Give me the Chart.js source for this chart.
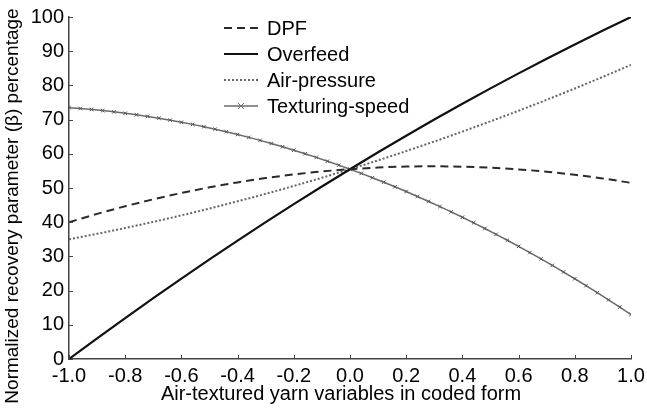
<!DOCTYPE html>
<html>
<head>
<meta charset="utf-8">
<script src="https://cdn.jsdelivr.net/npm/chart.js@4/dist/chart.umd.min.js"></script>
<style>
  html, body { margin: 0; padding: 0; background: #fff; }
  #wrap { width: 647px; height: 411px; }
</style>
</head>
<body>
<div id="wrap"><canvas id="Chart" width="647" height="411"></canvas></div>
<script>
// x positions (coded form)
const xCoarse = [-1.0, -0.9, -0.8, -0.7, -0.6, -0.5, -0.4, -0.3, -0.2, -0.1, 0.0,
  0.1, 0.2, 0.3, 0.4, 0.5, 0.6, 0.7, 0.8, 0.9, 1.0];
const dpf = [40.0, 42.43, 44.66, 46.70, 48.54, 50.19, 51.64, 52.90, 53.96, 54.83, 55.5,
  55.98, 56.26, 56.35, 56.24, 55.94, 55.44, 54.75, 53.86, 52.78, 51.5];
const overfeed = [0.0, 6.05, 11.98, 17.81, 23.52, 29.13, 34.62, 40.01, 45.28, 50.45, 55.5,
  60.45, 65.28, 70.01, 74.62, 79.13, 83.52, 87.81, 91.98, 96.05, 100.0];
const airPressure = [35.0, 36.6, 38.3, 40.1, 42.0, 44.0, 46.1, 48.3, 50.6, 53.0, 55.5,
  58.1, 60.8, 63.6, 66.5, 69.5, 72.6, 75.8, 79.1, 82.5, 86.0];

// texturing speed is plotted with markers, at a finer step
const xFine = [-1.0, -0.96, -0.92, -0.88, -0.84, -0.8, -0.76, -0.72, -0.68, -0.64, -0.6,
  -0.56, -0.52, -0.48, -0.44, -0.4, -0.36, -0.32, -0.28, -0.24, -0.2, -0.16, -0.12, -0.08, -0.04,
  0.0, 0.04, 0.08, 0.12, 0.16, 0.2, 0.24, 0.28, 0.32, 0.36, 0.4, 0.44, 0.48, 0.52, 0.56, 0.6,
  0.64, 0.68, 0.72, 0.76, 0.8, 0.84, 0.88, 0.92, 0.96, 1.0];
const texturingSpeed = [73.5, 73.25, 72.96, 72.63, 72.27, 71.86, 71.41, 70.93, 70.41, 69.84, 69.24,
  68.6, 67.92, 67.2, 66.44, 65.64, 64.8, 63.93, 63.01, 62.05, 61.06, 60.03, 58.95, 57.84, 56.69,
  55.5, 54.27, 53.0, 51.69, 50.35, 48.96, 47.53, 46.07, 44.57, 43.02, 41.44, 39.82, 38.16, 36.46, 34.72, 32.94,
  31.12, 29.27, 27.37, 25.43, 23.46, 21.45, 19.39, 17.3, 15.17, 13.0];

const xTicks = [-1.0, -0.8, -0.6, -0.4, -0.2, 0.0, 0.2, 0.4, 0.6, 0.8, 1.0];
const yTicks = [0, 10, 20, 30, 40, 50, 60, 70, 80, 90, 100];
const yTitle = "Normalized recovery parameter (β) percentage";
const xTitle = "Air-textured yarn variables in coded form";

const toPoints = (xs, ys) => xs.map((x, i) => ({ x: x, y: ys[i] }));

const FONT = "'Liberation Sans', Arial, sans-serif";

// inward ticks, axis titles and legend inside the plot
const axisExtras = {
  id: "axisExtras",
  afterDraw(chart) {
    const ctx = chart.ctx;
    const xs = chart.scales.x, ys = chart.scales.y;
    const area = chart.chartArea;
    ctx.save();
    ctx.strokeStyle = "#444";
    ctx.lineWidth = 1;
    xTicks.forEach((v) => {
      const px = Math.round(xs.getPixelForValue(v)) + 0.5;
      ctx.beginPath();
      ctx.moveTo(px, area.bottom);
      ctx.lineTo(px, area.bottom - 4);
      ctx.stroke();
    });
    yTicks.forEach((v) => {
      const py = Math.round(ys.getPixelForValue(v)) + 0.5;
      ctx.beginPath();
      ctx.moveTo(area.left, py);
      ctx.lineTo(area.left + 4, py);
      ctx.stroke();
    });

    ctx.fillStyle = "#000";
    // x axis title
    ctx.font = "20px " + FONT;
    ctx.textAlign = "center";
    ctx.textBaseline = "middle";
    ctx.fillText(xTitle, 341, 394);

    // y axis title
    ctx.save();
    ctx.translate(13, 206);
    ctx.rotate(-Math.PI / 2);
    ctx.font = "19px " + FONT;
    ctx.fillText(yTitle, 0, 0);
    ctx.restore();

    // legend
    const lx = 224, tx = 267, y0 = 28, step = 26;
    ctx.font = "20px " + FONT;
    ctx.textAlign = "left";
    chart.data.datasets.forEach((ds, i) => {
      const y = y0 + i * step;
      ctx.strokeStyle = ds.borderColor;
      ctx.lineWidth = ds.borderWidth;
      ctx.setLineDash(ds.borderDash || []);
      ctx.beginPath();
      ctx.moveTo(lx, y);
      ctx.lineTo(lx + 34, y);
      ctx.stroke();
      ctx.setLineDash([]);
      if (ds.pointRadius > 0) {
        const cx = lx + 17, r = 3;
        ctx.lineWidth = 1;
        ctx.beginPath();
        ctx.moveTo(cx - r, y - r); ctx.lineTo(cx + r, y + r);
        ctx.moveTo(cx - r, y + r); ctx.lineTo(cx + r, y - r);
        ctx.stroke();
      }
      ctx.fillStyle = "#000";
      ctx.fillText(ds.label, tx, y + 1);
    });
    ctx.restore();
  },
};

const ctx = document.getElementById("Chart").getContext("2d");
new Chart(ctx, {
  type: "line",
  data: {
    datasets: [
      {
        label: "DPF",
        data: toPoints(xCoarse, dpf),
        borderColor: "#2a2a2a",
        borderWidth: 2,
        borderDash: [8, 5],
        pointRadius: 0,
        cubicInterpolationMode: "monotone",
      },
      {
        label: "Overfeed",
        data: toPoints(xCoarse, overfeed),
        borderColor: "#111",
        borderWidth: 2.2,
        pointRadius: 0,
        cubicInterpolationMode: "monotone",
      },
      {
        label: "Air-pressure",
        data: toPoints(xCoarse, airPressure),
        borderColor: "#666",
        borderWidth: 2,
        borderDash: [2, 2],
        pointRadius: 0,
        cubicInterpolationMode: "monotone",
      },
      {
        label: "Texturing-speed",
        data: toPoints(xFine, texturingSpeed),
        borderColor: "#6a6a6a",
        backgroundColor: "#6a6a6a",
        borderWidth: 1.5,
        pointStyle: "crossRot",
        pointRadius: 2.5,
        pointBorderWidth: 1,
        pointBorderColor: "#555",
      },
    ],
  },
  options: {
    responsive: false,
    animation: false,
    layout: { padding: { top: 17, right: 16, left: 0, bottom: 0 } },
    plugins: {
      legend: { display: false },
      tooltip: { enabled: false },
    },
    scales: {
      x: {
        type: "linear",
        min: -1,
        max: 1,
        afterBuildTicks: (scale) => {
          scale.ticks = xTicks.map((v) => ({ value: v }));
        },
        afterFit: (scale) => {
          scale.height = 52;
          scale.paddingLeft = 0;
          scale.paddingRight = 0;
        },
        grid: { display: false, drawTicks: false },
        border: { display: true, color: "#444", width: 1.5 },
        ticks: {
          color: "#000",
          padding: 5,
          maxRotation: 0,
          font: { family: FONT, size: 20 },
          callback: (v) => Number(v).toFixed(1),
        },
        title: { display: false },
      },
      y: {
        type: "linear",
        min: 0,
        max: 100,
        afterBuildTicks: (scale) => {
          scale.ticks = yTicks.map((v) => ({ value: v }));
        },
        afterFit: (scale) => { scale.width = 69; },
        grid: { display: false, drawTicks: false },
        border: { display: true, color: "#444", width: 1.5 },
        ticks: {
          color: "#000",
          padding: 5,
          font: { family: FONT, size: 20 },
        },
        title: { display: false },
      },
    },
  },
  plugins: [axisExtras],
});
</script>
</body>
</html>
